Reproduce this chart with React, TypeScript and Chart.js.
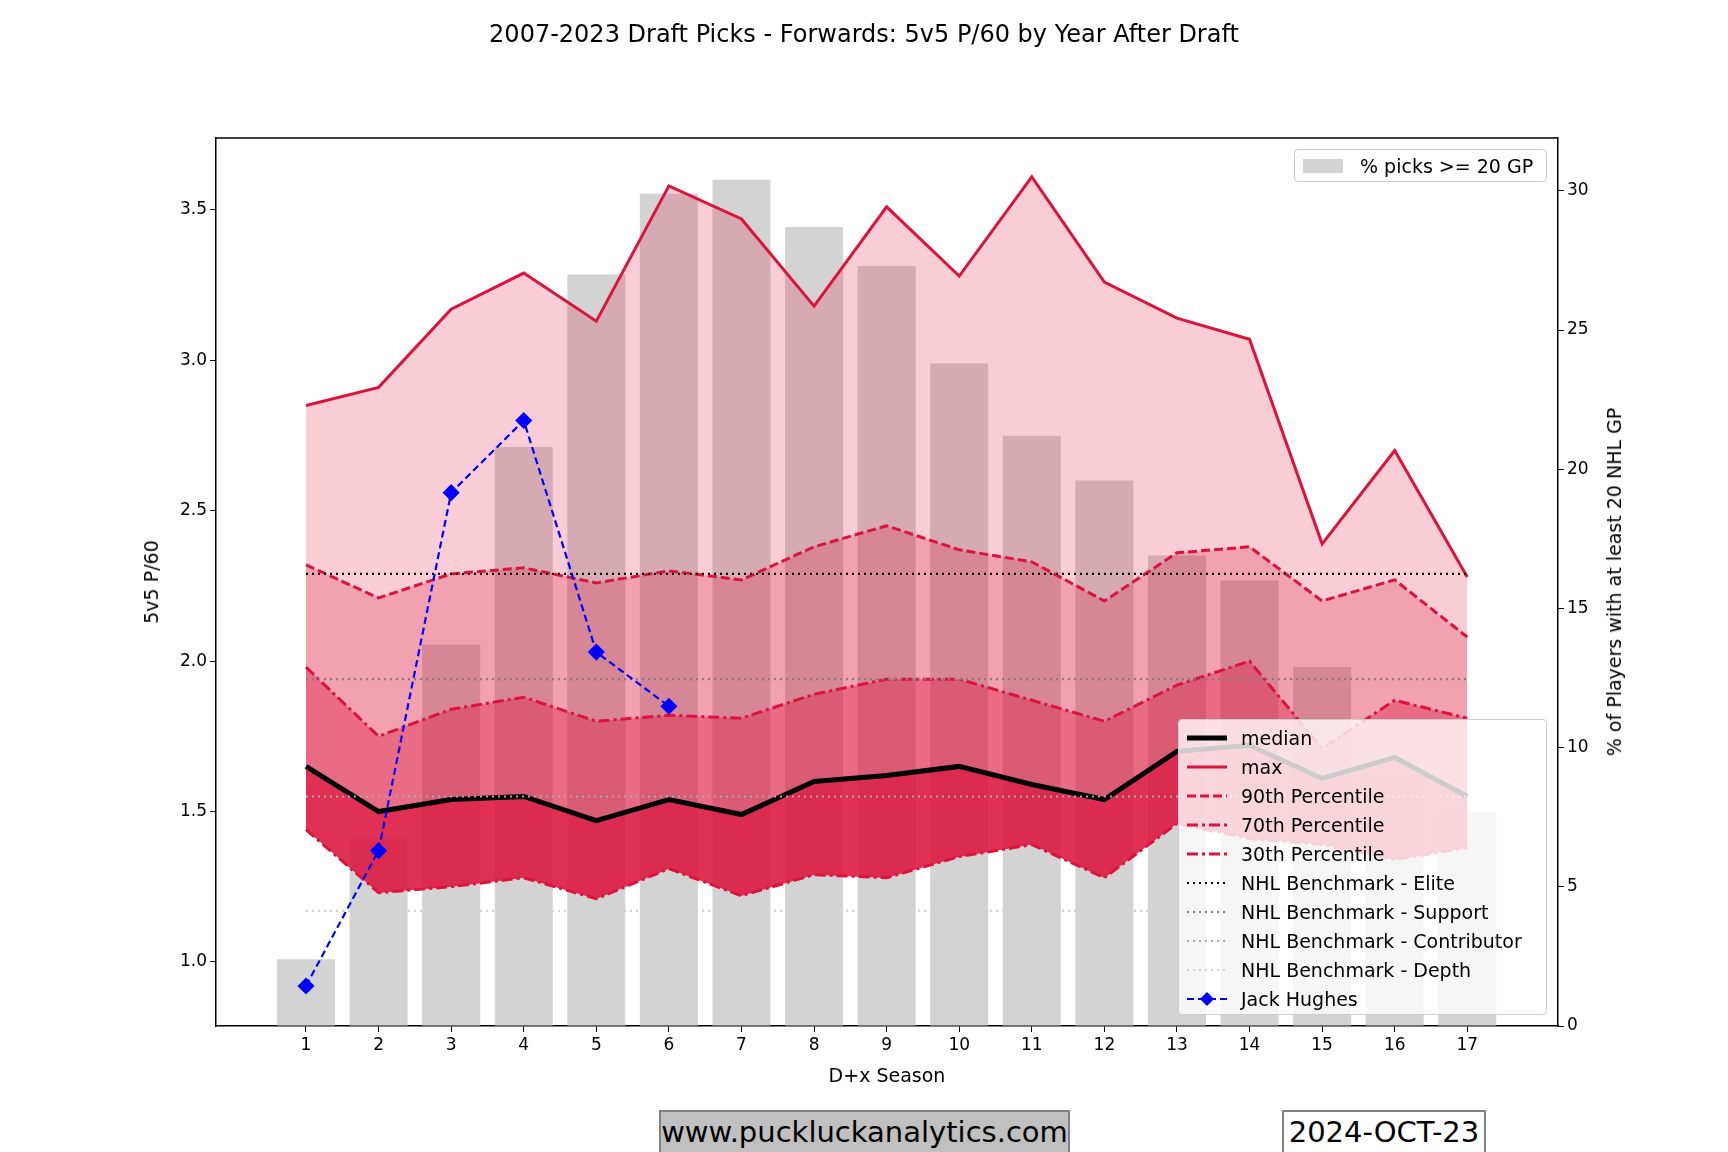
import React, { useEffect, useRef } from "react";
import { Chart, registerables } from "chart.js";
Chart.register(...registerables);

const seasons = [1, 2, 3, 4, 5, 6, 7, 8, 9, 10, 11, 12, 13, 14, 15, 16, 17];
const pctPicks = [2.4, 6.7, 13.7, 20.8, 27.0, 29.9, 30.4, 28.7, 27.3, 23.8, 21.2, 19.6, 16.9, 16.0, 12.9, 9.0, 7.7];
const maxVals = [2.85, 2.91, 3.17, 3.29, 3.13, 3.58, 3.47, 3.18, 3.51, 3.28, 3.61, 3.26, 3.14, 3.07, 2.39, 2.70, 2.28];
const p90 = [2.32, 2.21, 2.29, 2.31, 2.26, 2.30, 2.27, 2.38, 2.45, 2.37, 2.33, 2.20, 2.36, 2.38, 2.20, 2.27, 2.08];
const p70 = [1.98, 1.75, 1.84, 1.88, 1.80, 1.82, 1.81, 1.89, 1.94, 1.94, 1.87, 1.80, 1.92, 2.00, 1.71, 1.87, 1.81];
const median = [1.65, 1.50, 1.54, 1.55, 1.47, 1.54, 1.49, 1.60, 1.62, 1.65, 1.59, 1.54, 1.70, 1.72, 1.61, 1.68, 1.55];
const p30 = [1.44, 1.23, 1.25, 1.28, 1.21, 1.31, 1.22, 1.29, 1.28, 1.35, 1.39, 1.28, 1.46, 1.41, 1.39, 1.34, 1.38];
const hughesSeasons = [1, 2, 3, 4, 5, 6];
const hughes = [0.92, 1.37, 2.56, 2.80, 2.03, 1.85];
const benchElite = 2.29;
const benchSupport = 1.94;
const benchContributor = 1.55;
const benchDepth = 1.17;
const leftTicks = [1.0, 1.5, 2.0, 2.5, 3.0, 3.5];
const rightTicks = [0, 5, 10, 15, 20, 25, 30];

const CR = "#dc143c";
const font = "'DejaVu Sans', sans-serif";
const pts = (xs: number[], ys: number[]) => xs.map((x, i) => ({ x, y: ys[i] }));
const flat = (v: number) => seasons.map((x) => ({ x, y: v }));

function Sample({ color, width, dash, marker }: { color: string; width: number; dash?: string; marker?: boolean }) {
  return (
    <svg width={44} height={16} style={{ marginRight: 12 }}>
      <line x1={2} y1={8} x2={42} y2={8} stroke={color} strokeWidth={width} strokeDasharray={dash} />
      {marker && <polygon points="22,1 29,8 22,15 15,8" fill={color} />}
    </svg>
  );
}

export default function App() {
  const ref = useRef<HTMLCanvasElement>(null);
  useEffect(() => {
    const ctx = ref.current!;
    const line = (label: string, data: any, color: string, width: number, dash: number[], extra: any = {}) => ({
      type: "line", label, data, borderColor: color, borderWidth: width, borderDash: dash,
      pointRadius: 0, yAxisID: "y", fill: false, tension: 0, ...extra,
    });
    const chart = new Chart(ctx, {
      type: "bar",
      data: {
        datasets: [
          line("30th Percentile", pts(seasons, p30), CR, 3, [11, 4, 3, 4], { order: 10 }),
          { type: "bar", label: "% picks >= 20 GP", data: pts(seasons, pctPicks), backgroundColor: "#d3d3d3",
            yAxisID: "y1", order: 100, categoryPercentage: 0.8, barPercentage: 1 } as any,
          line("max", pts(seasons, maxVals), CR, 3, [], { order: 20, fill: { target: 0 }, backgroundColor: "rgba(220,20,60,0.21)" }),
          line("90th Percentile", pts(seasons, p90), CR, 3, [9, 4], { order: 19, fill: { target: 0 }, backgroundColor: "rgba(220,20,60,0.24)" }),
          line("70th Percentile", pts(seasons, p70), CR, 3, [11, 4, 3, 4], { order: 18, fill: { target: 0 }, backgroundColor: "rgba(220,20,60,0.38)" }),
          line("median", pts(seasons, median), "#000", 5, [], { order: 17, fill: { target: 0 }, backgroundColor: "rgba(220,20,60,0.68)" }),
          line("Elite", flat(benchElite), "#000", 2.2, [2, 4], { order: 5 }),
          line("Support", flat(benchSupport), "#808080", 2.2, [2, 4], { order: 5 }),
          line("Contributor", flat(benchContributor), "#a9a9a9", 2.2, [2, 4], { order: 5 }),
          line("Depth", flat(benchDepth), "#d3d3d3", 2.2, [2, 4], { order: 200 }),
          line("Jack Hughes", pts(hughesSeasons, hughes), "#0000ff", 2.2, [7, 4],
            { order: 1, pointRadius: 7, pointStyle: "rectRot", pointBackgroundColor: "#0000ff", pointBorderColor: "#0000ff" }),
        ] as any,
      },
      options: {
        animation: false,
        responsive: false,
        layout: { padding: { top: 138, right: 0, left: 0, bottom: 0 } },
        plugins: { legend: { display: false }, tooltip: { enabled: false } },
        scales: {
          x: {
            type: "linear", min: -0.24, max: 18.25, offset: false,
            afterBuildTicks: (s: any) => { s.ticks = seasons.map((v) => ({ value: v })); },
            afterFit: (s: any) => { s.height = 126; },
            grid: { drawOnChartArea: false, tickLength: 6, color: "#000", offset: false },
            border: { color: "#000", width: 1.5 },
            ticks: { color: "#000", font: { family: font, size: 17 }, callback: (v: any) => String(v) },
          },
          y: {
            type: "linear", position: "left", min: 0.787, max: 3.739,
            afterBuildTicks: (s: any) => { s.ticks = leftTicks.map((v) => ({ value: v })); },
            afterFit: (s: any) => { s.width = 216; },
            grid: { drawOnChartArea: false, tickLength: 6, color: "#000" },
            border: { color: "#000", width: 1.5 },
            ticks: { color: "#000", font: { family: font, size: 17 }, callback: (v: any) => Number(v).toFixed(1) },
          },
          y1: {
            type: "linear", position: "right", min: 0, max: 31.9,
            afterBuildTicks: (s: any) => { s.ticks = rightTicks.map((v) => ({ value: v })); },
            afterFit: (s: any) => { s.width = 170; },
            grid: { drawOnChartArea: false, tickLength: 6, color: "#000" },
            border: { color: "#000", width: 1.5 },
            ticks: { color: "#000", font: { family: font, size: 17 } },
          },
        },
      } as any,
      plugins: [{
        id: "frame",
        afterDraw(c: any) {
          const { left, right, top } = c.chartArea;
          const g = c.ctx;
          g.save(); g.strokeStyle = "#000"; g.lineWidth = 1.5;
          g.beginPath(); g.moveTo(left, top); g.lineTo(right, top); g.stroke(); g.restore();
        },
      }],
    });
    return () => chart.destroy();
  }, []);

  const txt: React.CSSProperties = { position: "absolute", fontFamily: font, color: "#000", whiteSpace: "nowrap" };
  const row: React.CSSProperties = { display: "flex", alignItems: "center", height: 29, fontSize: 19 };
  const items: [string, string, number, string | undefined, boolean?][] = [
    ["median", "#000", 5, undefined],
    ["max", CR, 3, undefined],
    ["90th Percentile", CR, 3, "9 4"],
    ["70th Percentile", CR, 3, "11 4 3 4"],
    ["30th Percentile", CR, 3, "11 4 3 4"],
    ["NHL Benchmark - Elite", "#000", 2.2, "2 4"],
    ["NHL Benchmark - Support", "#808080", 2.2, "2 4"],
    ["NHL Benchmark - Contributor", "#a9a9a9", 2.2, "2 4"],
    ["NHL Benchmark - Depth", "#d3d3d3", 2.2, "2 4"],
    ["Jack Hughes", "#0000ff", 2.2, "7 4", true],
  ];
  return (
    <div style={{ position: "absolute", left: 0, top: 0, width: 1728, height: 1152, overflow: "hidden", background: "#fff" }}>
      <canvas ref={ref} width={1728} height={1152} style={{ position: "absolute", left: 0, top: 0 }} />
      <div style={{ ...txt, left: 0, width: 1728, top: 20, textAlign: "center", fontSize: 24 }}>
        2007-2023 Draft Picks - Forwards: 5v5 P/60 by Year After Draft
      </div>
      <div style={{ ...txt, left: 151, top: 582, fontSize: 19, transform: "translate(-50%,-50%) rotate(-90deg)" }}>5v5 P/60</div>
      <div style={{ ...txt, left: 1614, top: 582, fontSize: 19, transform: "translate(-50%,-50%) rotate(-90deg)" }}>% of Players with at least 20 NHL GP</div>
      <div style={{ ...txt, left: 887, top: 1075, fontSize: 19, transform: "translate(-50%,-50%)" }}>D+x Season</div>
      <div style={{ ...txt, left: 1294, top: 149, width: 253, height: 33, boxSizing: "border-box", background: "rgba(255,255,255,0.8)",
        border: "1px solid #ccc", borderRadius: 4, display: "flex", alignItems: "center", paddingLeft: 8, fontSize: 19 }}>
        <div style={{ width: 40, height: 14, background: "#d3d3d3", marginRight: 17 }} />% picks &gt;= 20 GP
      </div>
      <div style={{ ...txt, left: 1178, top: 719, width: 369, height: 296, boxSizing: "border-box", background: "rgba(255,255,255,0.8)",
        border: "1px solid #ccc", borderRadius: 4, padding: "3px 6px" }}>
        {items.map(([l, c, w, d, m]) => (
          <div key={l} style={row}><Sample color={c} width={w} dash={d} marker={m} />{l}</div>
        ))}
      </div>
      <div style={{ ...txt, left: 659, top: 1110, width: 411, height: 46, boxSizing: "border-box", background: "#c0c0c0",
        border: "2px solid #808080", fontSize: 29, textAlign: "center", lineHeight: "40px" }}>www.puckluckanalytics.com</div>
      <div style={{ ...txt, left: 1282, top: 1110, width: 204, height: 46, boxSizing: "border-box", background: "#fff",
        border: "2px solid #808080", fontSize: 29, textAlign: "center", lineHeight: "40px" }}>2024-OCT-23</div>
    </div>
  );
}
